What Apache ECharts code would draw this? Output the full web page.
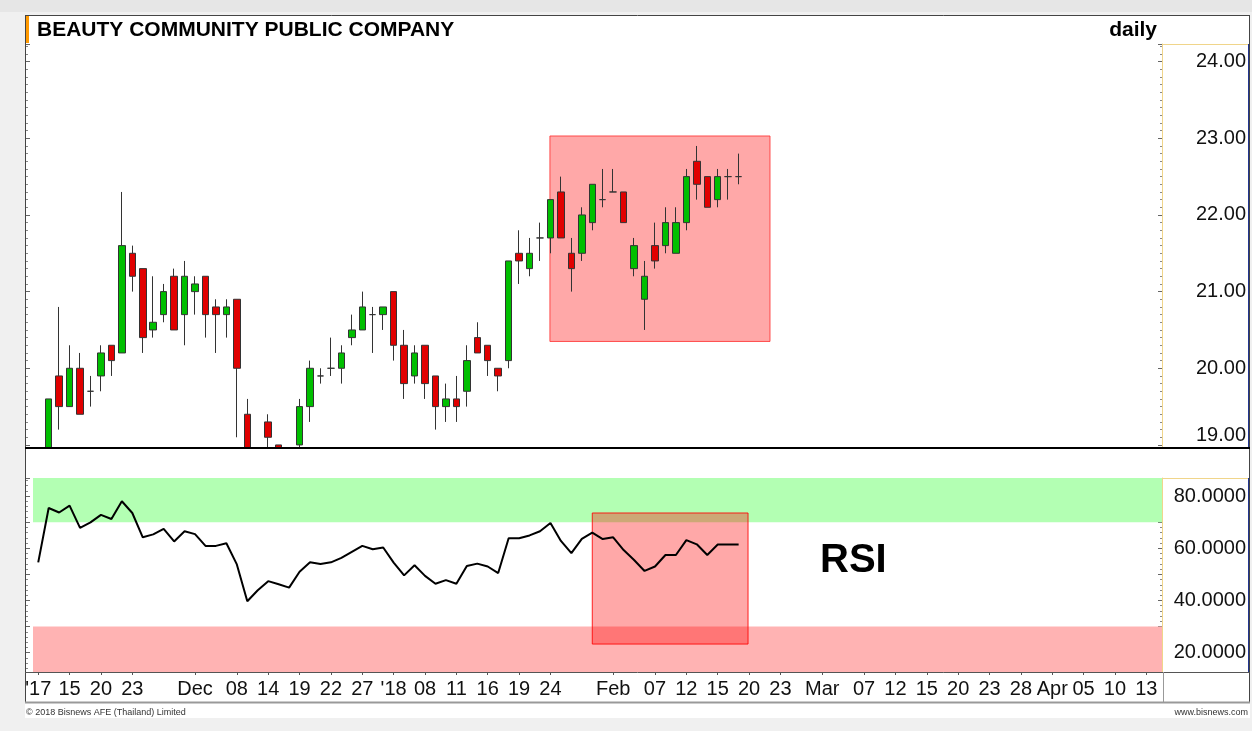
<!DOCTYPE html>
<html>
<head>
<meta charset="utf-8">
<script src="https://cdn.jsdelivr.net/npm/echarts@6/dist/echarts.min.js"></script>
<style>
html,body{margin:0;padding:0;background:#f0f0f0;}
#c{width:1252px;height:731px;}
</style>
</head>
<body>
<div id="c"></div>
<script>
// ---------------- data ----------------
const slotCount = 108;
const tickLabels = ["'17","15","20","23","Dec","08","14","19","22","27","'18","08","11","16","19","24","Feb","07","12","15","20","23","Mar","07","12","15","20","23","28","Apr","05","10","13"];
const tickSlots  = [0,3,6,9,15,19,22,25,28,31,34,37,40,43,46,49,55,59,62,65,68,71,75,79,82,85,88,91,94,97,100,103,106];

const opens  = [18.7,18.9,19.9,19.5,20.0,19.7,19.9,20.3,20.2,21.5,21.3,20.5,20.7,21.2,20.7,21.0,21.2,20.8,20.7,20.9,19.4,18.8,19.3,19.0,18.9,19.0,19.5,19.9,20.0,20.0,20.4,20.5,20.7,20.7,21.0,20.3,19.9,20.3,19.9,19.5,19.6,19.7,20.4,20.3,20.0,20.1,21.5,21.3,21.7,21.7,22.3,21.5,21.5,21.9,22.2,22.3,22.3,21.3,20.9,21.6,21.6,21.5,21.9,22.7,22.5,22.2,22.5,22.5];
const closes = [18.8,19.6,19.5,20.0,19.4,19.7,20.2,20.1,21.6,21.2,20.4,20.6,21.0,20.5,21.2,21.1,20.7,20.7,20.8,20.0,18.8,18.9,19.1,18.9,18.9,19.5,20.0,19.9,20.0,20.2,20.5,20.8,20.7,20.8,20.3,19.8,20.2,19.8,19.5,19.6,19.5,20.1,20.2,20.1,19.9,21.4,21.4,21.5,21.7,22.2,21.7,21.3,22.0,22.4,22.2,22.3,21.9,21.6,21.2,21.4,21.9,21.9,22.5,22.4,22.1,22.5,22.5,22.5];
const lows   = [18.6,18.8,19.2,19.5,19.4,19.5,19.7,19.9,20.2,21.0,20.2,20.4,20.6,20.5,20.3,20.7,20.4,20.2,20.4,19.1,18.7,18.7,18.9,18.8,18.8,18.9,19.3,19.8,19.9,19.8,20.3,20.5,20.2,20.5,20.1,19.6,19.8,19.6,19.2,19.3,19.3,19.5,20.2,19.9,19.7,20.0,21.1,21.2,21.4,21.5,21.7,21.0,21.4,21.8,22.1,22.3,21.9,21.2,20.5,21.3,21.5,21.5,21.8,22.2,22.1,22.1,22.2,22.4];
const highs  = [18.9,19.6,20.8,20.3,20.2,19.9,20.3,20.3,22.3,21.6,21.3,21.2,21.1,21.3,21.4,21.2,21.2,20.9,20.9,20.9,19.6,18.9,19.4,19.0,18.95,19.6,20.1,20.0,20.4,20.3,20.7,21.0,20.8,20.8,21.0,20.5,20.3,20.3,19.9,19.8,19.9,20.3,20.6,20.3,20.0,21.4,21.8,21.7,21.9,22.2,22.5,21.7,22.1,22.4,22.6,22.6,22.3,21.7,21.4,21.9,22.1,22.1,22.6,22.9,22.5,22.6,22.6,22.8];

const rsi = [54.6,75.4,73.7,76.3,67.8,69.9,72.8,71.2,78.0,73.5,64.2,65.3,67.4,62.6,66.5,65.4,60.9,60.9,61.9,53.8,39.7,43.9,47.4,46.2,44.9,51.0,54.6,54.0,54.6,56.3,58.6,60.9,59.6,60.3,54.5,49.6,53.5,49.4,46.4,47.8,46.4,53.2,54.1,53.0,50.5,63.8,63.8,64.9,66.5,69.7,62.8,58.1,63.6,66.0,63.5,64.2,59.3,55.5,51.3,53.0,57.4,57.4,63.1,61.5,57.4,61.4,61.4,61.4];

const priceTicks = [19,20,21,22,23,24];
const rsiTicks = [20,40,60,80];
const lastPrice = 22.5;
const priceRange = [18.96, 24.23];
const rsiRange = [12.6, 86.9];
const overbought = [70, 86.9];
const oversold = [12.6, 30];
const priceBoxSlots = [48.95, 70.0];
const priceBoxValues = [20.35, 23.03];
const rsiBoxSlots = [53.0, 67.9];
const rsiBoxValues = [23.3, 73.5];

// ---------------- build ----------------
const categories = [];
for (let i = 0; i < slotCount; i++) categories.push('');
tickSlots.forEach((s, j) => { categories[s] = tickLabels[j]; });
const isTick = (i) => tickSlots.indexOf(i) >= 0;

const candles = opens.map((o, i) => [o, closes[i], lows[i], highs[i]]);

const FONT = "'Liberation Sans', Arial, sans-serif";
const L = 33, R = 1162, W = R - L;

const chart = echarts.init(document.getElementById('c'), null, {renderer: 'canvas'});

const hline = (x1, x2, y, color, w, z) => ({type:'line', z: z || 10, shape:{x1, y1:y, x2, y2:y}, style:{stroke:color, lineWidth:w || 1}, silent:true});
const vline = (x, y1, y2, color, w, z) => ({type:'line', z: z || 10, shape:{x1:x, y1, x2:x, y2}, style:{stroke:color, lineWidth:w || 1}, silent:true});

const yTickCommon = {
  axisTick:{show:true, inside:true, length:4, lineStyle:{color:'#666'}},
  splitLine:{show:false}
};

const option = {
  backgroundColor: '#f0f0f0',
  animation: false,
  textStyle: {fontFamily: FONT},
  grid: [
    {left: L, width: W, top: 44, height: 404},
    {left: L, width: W, top: 478, height: 194}
  ],
  xAxis: [
    {type:'category', gridIndex:0, data:categories, boundaryGap:true,
      axisLine:{show:false, onZero:false}, axisTick:{show:false}, axisLabel:{show:false}, splitLine:{show:false}},
    {type:'category', gridIndex:1, data:categories, boundaryGap:true,
      axisLine:{show:false, onZero:false},
      axisTick:{show:true, interval:(i)=>isTick(i), alignWithLabel:true, length:3, lineStyle:{color:'#555'}},
      axisLabel:{show:true, interval:(i)=>isTick(i), margin:7, fontSize:20, color:'#111', fontFamily:FONT},
      splitLine:{show:false}},
    {type:'value', gridIndex:0, min:-0.5, max:slotCount-0.5, show:false, axisLine:{onZero:false}},
    {type:'value', gridIndex:1, min:-0.5, max:slotCount-0.5, show:false, axisLine:{onZero:false}}
  ],
  yAxis: [
    Object.assign({type:'value', gridIndex:0, position:'right', min:priceRange[0], max:priceRange[1],
      axisLine:{show:true, onZero:false, lineStyle:{color:'#f0d58a', width:1}},
      minorTick:{show:true, splitNumber:10, length:2, lineStyle:{color:'#888'}},
      axisLabel:{customValues:priceTicks, align:'right', margin:84, fontSize:20, color:'#111', fontFamily:FONT,
        formatter:(v)=> v === priceTicks[0] ? '{low|' + v.toFixed(2) + '}' : v.toFixed(2),
        rich:{low:{fontSize:20, color:'#111', fontFamily:FONT, padding:[0,0,18,0]}}}}, yTickCommon),
    Object.assign({type:'value', gridIndex:0, position:'left', offset:7, min:priceRange[0], max:priceRange[1],
      axisLine:{show:false, onZero:false},
      minorTick:{show:true, splitNumber:10, length:2, lineStyle:{color:'#888'}},
      axisLabel:{show:false}}, yTickCommon),
    Object.assign({type:'value', gridIndex:1, position:'right', min:rsiRange[0], max:rsiRange[1],
      axisLine:{show:true, onZero:false, lineStyle:{color:'#f0d58a', width:1}},
      minorTick:{show:true, splitNumber:5, length:2, lineStyle:{color:'#888'}},
      axisLabel:{customValues:rsiTicks, formatter:(v)=>v.toFixed(4), align:'right', margin:84, fontSize:20, color:'#111', fontFamily:FONT}}, yTickCommon),
    Object.assign({type:'value', gridIndex:1, position:'left', offset:7, min:rsiRange[0], max:rsiRange[1],
      axisLine:{show:false, onZero:false},
      minorTick:{show:true, splitNumber:5, length:2, lineStyle:{color:'#888'}},
      axisLabel:{show:false}}, yTickCommon)
  ],
  series: [
    {name:'priceBox', type:'line', xAxisIndex:2, yAxisIndex:0, data:[], silent:true,
      markArea:{silent:true, z:1,
        itemStyle:{color:'rgba(255,0,0,0.34)', borderColor:'rgba(255,50,50,0.85)', borderWidth:1},
        data:[[{coord:[priceBoxSlots[0], priceBoxValues[0]]},{coord:[priceBoxSlots[1], priceBoxValues[1]]}]]}},
    {name:'price', type:'candlestick', xAxisIndex:0, yAxisIndex:0, data:candles, barWidth:7, clip:true, z:3,
      itemStyle:{color:'#00bf00', color0:'#e00000', borderColor:'#333', borderColor0:'#333', borderWidth:1}},
    {name:'last', type:'line', xAxisIndex:2, yAxisIndex:0, data:[], silent:true,
      markLine:{silent:true, symbol:'none', z:6,
        lineStyle:{opacity:0},
        label:{show:true, position:'end', distance:1, formatter:()=>lastPrice.toFixed(2), color:'#fff',
          backgroundColor:'#2f5ad8', padding:[2,4,1,2], fontSize:20, fontFamily:FONT},
        data:[{yAxis:lastPrice}]}},
    {name:'bands', type:'line', xAxisIndex:3, yAxisIndex:2, data:[], silent:true,
      markArea:{silent:true, z:0.5,
        data:[
          [{yAxis:overbought[0], itemStyle:{color:'#b3ffb3'}},{yAxis:overbought[1]}],
          [{yAxis:oversold[0], itemStyle:{color:'#ffb3b3'}},{yAxis:oversold[1]}]
        ]}},
    {name:'rsiBox', type:'line', xAxisIndex:3, yAxisIndex:2, data:[], silent:true,
      markArea:{silent:true, z:1,
        itemStyle:{color:'rgba(255,0,0,0.34)', borderColor:'rgba(255,0,0,0.85)', borderWidth:1},
        data:[[{coord:[rsiBoxSlots[0], rsiBoxValues[0]]},{coord:[rsiBoxSlots[1], rsiBoxValues[1]]}]]}},
    {name:'RSI', type:'line', xAxisIndex:1, yAxisIndex:2, data:rsi, symbol:'none', z:4,
      lineStyle:{color:'#000', width:2}}
  ],
  graphic: [
    {type:'rect', z:-10, shape:{x:25, y:15, width:1225, height:703}, style:{fill:'#fff'}, silent:true},
    {type:'rect', z:-11, shape:{x:0, y:0, width:1252, height:12}, style:{fill:'#e6e6e6'}, silent:true},
    {type:'rect', z:8, shape:{x:26, y:449, width:1136, height:28.5}, style:{fill:'#fff'}, silent:true},
    hline(25, 1250, 15.5, '#444', 1),
    vline(25.5, 15, 703, '#444', 1),
    vline(1249.5, 15, 703, '#444', 1),
    hline(25, 1250, 448, '#000', 2),
    hline(25, 1250, 672.5, '#555', 1),
    hline(25, 1250, 702.5, '#999', 2),
    vline(1163.5, 672, 702, '#999', 1),
    hline(1162, 1248, 44.5, '#f0d58a', 1),
    vline(1248.5, 44, 447, '#22358f', 1),
    hline(1162, 1248, 478.5, '#f0d58a', 1),
    vline(1248.5, 478, 672, '#22358f', 1),
    {type:'rect', z:10, shape:{x:26, y:16, width:3, height:27}, style:{fill:'#ff9900'}, silent:true},
    {type:'text', z:10, x:37, y:30, style:{text:'BEAUTY COMMUNITY PUBLIC COMPANY', font:"bold 21px "+FONT, fill:'#000', textVerticalAlign:'middle', textAlign:'left'}},
    {type:'text', z:10, x:1157, y:30, style:{text:'daily', font:"bold 21px "+FONT, fill:'#000', textVerticalAlign:'middle', textAlign:'right'}},
    {type:'text', z:10, x:820, y:561, style:{text:'RSI', font:"bold 40px "+FONT, fill:'#000', textVerticalAlign:'middle', textAlign:'left'}},
    {type:'text', z:10, x:26, y:713, style:{text:'\u00a9 2018 Bisnews AFE (Thailand) Limited', font:"9px "+FONT, fill:'#333', textVerticalAlign:'middle', textAlign:'left'}},
    {type:'text', z:10, x:1248, y:713, style:{text:'www.bisnews.com', font:"9px "+FONT, fill:'#333', textVerticalAlign:'middle', textAlign:'right'}}
  ]
};
chart.setOption(option);
</script>
</body>
</html>
